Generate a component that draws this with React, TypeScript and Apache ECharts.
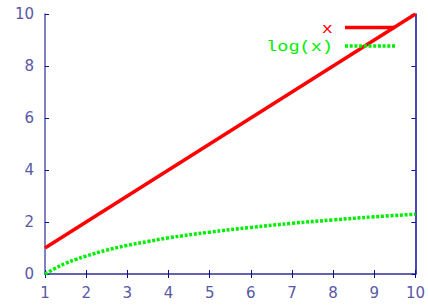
import React, { useEffect, useRef } from "react";
import * as echarts from "echarts";

const lineX = [1, 10];
const lineY = [1, 10];
const logXs = [1, 1.25, 1.5, 1.75, 2, 2.5, 3, 3.5, 4, 5, 6, 7, 8, 9, 10];
const logYs = [0, 0.22, 0.41, 0.56, 0.69, 0.92, 1.1, 1.25, 1.39, 1.61, 1.79, 1.95, 2.08, 2.2, 2.3];
const seriesNames = ["x", "log(x)"];

const AXIS = "#5858a8";
const AXIS_R = "#0a0aa0";
const RED = "#ff0000";
const GREEN = "#00ee00";
const GREEN_DASH = [3, 1.7];

export default function App() {
  const ref = useRef<HTMLDivElement>(null);
  useEffect(() => {
    const chart = echarts.init(ref.current!, null, { renderer: "svg" });
    const tickFont = { fontFamily: "DejaVu Sans", fontSize: 15, color: AXIS };
    const legendFont = "15.5px 'Liberation Mono', monospace";
    chart.setOption({
      animation: false,
      backgroundColor: "#ffffff",
      grid: { left: 45, right: 10, top: 14, bottom: 31, containLabel: false },
      graphic: [
        {
          type: "text",
          x: 333,
          y: 28.5,
          scaleX: 1.2,
          style: { text: seriesNames[0], fill: RED, font: legendFont, align: "right", verticalAlign: "middle" },
          z: 10,
        },
        {
          type: "line",
          shape: { x1: 345, y1: 27.5, x2: 395, y2: 27.5 },
          style: { stroke: RED, lineWidth: 3.5 },
          z: 10,
        },
        {
          type: "text",
          x: 333,
          y: 46.5,
          scaleX: 1.2,
          style: { text: seriesNames[1], fill: GREEN, font: legendFont, align: "right", verticalAlign: "middle" },
          z: 10,
        },
        {
          type: "line",
          shape: { x1: 345, y1: 46, x2: 395, y2: 46 },
          style: { stroke: GREEN, lineWidth: 3.5, lineDash: GREEN_DASH, lineCap: "butt" },
          z: 10,
        },
      ],
      xAxis: [
        {
          type: "value",
          min: 1,
          max: 10,
          interval: 1,
          position: "bottom",
          axisLine: { lineStyle: { color: AXIS, width: 1.5 } },
          axisTick: { inside: true, length: 4, lineStyle: { color: AXIS_R } },
          axisLabel: { ...tickFont, margin: 11 },
          splitLine: { show: false },
        },
        {
          type: "value",
          min: 1,
          max: 10,
          interval: 1,
          position: "top",
          axisLine: { lineStyle: { color: AXIS, width: 1.5 } },
          axisTick: { inside: true, length: 4, lineStyle: { color: AXIS_R } },
          axisLabel: { show: false },
          splitLine: { show: false },
        },
      ],
      yAxis: [
        {
          type: "value",
          min: 0,
          max: 10,
          interval: 2,
          position: "left",
          axisLine: { show: true, lineStyle: { color: AXIS, width: 1.5 } },
          axisTick: { show: true, inside: true, length: 4, lineStyle: { color: AXIS_R } },
          axisLabel: { ...tickFont, margin: 11 },
          splitLine: { show: false },
        },
        {
          type: "value",
          min: 0,
          max: 10,
          interval: 2,
          position: "right",
          axisLine: { show: true, lineStyle: { color: AXIS_R, width: 1.5 } },
          axisTick: { show: true, inside: true, length: 4, lineStyle: { color: AXIS_R } },
          axisLabel: { show: false },
          splitLine: { show: false },
        },
      ],
      series: [
        {
          name: seriesNames[0],
          type: "line",
          showSymbol: false,
          symbol: "none",
          color: RED,
          lineStyle: { color: RED, width: 3.5 },
          data: lineX.map((x, i) => [x, lineY[i]]),
          z: 3,
        },
        {
          name: seriesNames[1],
          type: "line",
          showSymbol: false,
          symbol: "none",
          smooth: 0.4,
          color: GREEN,
          lineStyle: { color: GREEN, width: 3.5, type: GREEN_DASH, cap: "butt" },
          data: logXs.map((x, i) => [x, logYs[i]]),
          z: 2,
        },
      ],
    });
    return () => chart.dispose();
  }, []);
  return <div ref={ref} style={{ width: 428, height: 305, position: "absolute", left: 0, top: 0 }} />;
}
